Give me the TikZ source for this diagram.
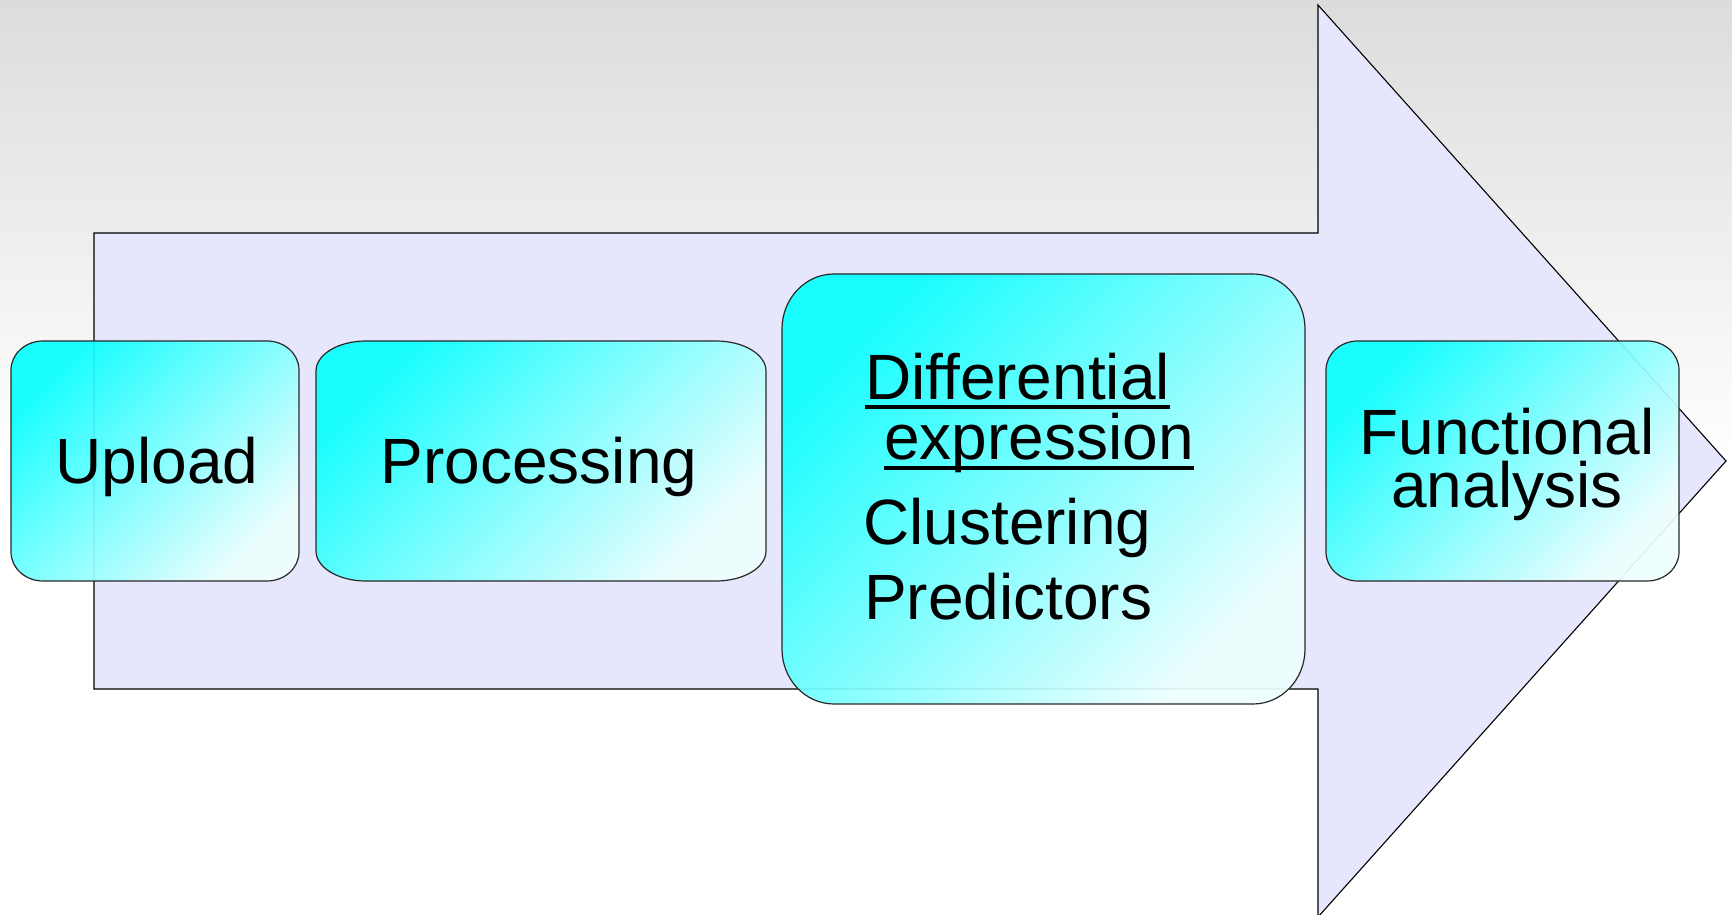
\documentclass[tikz,border=0pt]{standalone}
\usepackage{fontspec}
\setmainfont{Liberation Sans}

\definecolor{arrowfill}{RGB}{230,230,252}
\definecolor{cyanA}{RGB}{10,255,255}
\definecolor{cyanB}{RGB}{238,255,255}
\definecolor{skytop}{RGB}{220,220,220}
\definecolor{edge}{RGB}{40,40,40}

\tikzset{
  arrowbody/.style={draw=black, line width=1.1, fill=arrowfill},
  stage/.style={draw=edge, line width=1.2, top color=cyanA, bottom color=cyanB,
                shading angle=45, fill opacity=0.93},
  steptext/.style={font=\fontsize{64}{53}\selectfont, inner sep=0, text=black},
  uline/.style={line width=3.5, black},
}

% rounded box with elliptical corners: x1 y1 x2 y2 rx ry
\newcommand\stagebox[6]{%
  \path[stage] (#1+#5,#2) -- (#3-#5,#2)
    arc[start angle=-90, end angle=0, x radius=#5, y radius=#6] -- (#3,#4-#6)
    arc[start angle=0, end angle=90, x radius=#5, y radius=#6] -- (#1+#5,#4)
    arc[start angle=90, end angle=180, x radius=#5, y radius=#6] -- (#1,#2+#6)
    arc[start angle=180, end angle=270, x radius=#5, y radius=#6] -- cycle;}

\begin{document}
\begin{tikzpicture}[x=1pt, y=1pt]
  \useasboundingbox (0,0) rectangle (1732,914);
  \clip (0,0) rectangle (1732,914);

  % backdrop: grey fading to white
  \fill[white] (0,0) rectangle (1732,914);
  \shade[top color=skytop, bottom color=white] (0,457) rectangle (1732,914);

  % big process arrow
  \draw[arrowbody] (94,225) -- (94,681) -- (1318,681) -- (1318,909)
    -- (1726,453) -- (1318,-3) -- (1318,225) -- cycle;

  % stage boxes
  \stagebox{11}{333}{299}{573}{32}{29}
  \stagebox{316}{333}{766}{573}{50}{30}
  \stagebox{782}{210}{1305}{640}{52}{55}
  \stagebox{1326}{333}{1679}{573}{32}{29}

  % stage labels
  \node[steptext, anchor=base] (upload) at (157,430) {Upload};
  \node[steptext, anchor=base] (processing) at (539,430) {Processing};
  \node[steptext, anchor=base west] (diff) at (865,514) {Differential};
  \node[steptext, anchor=base west] (expr) at (884,454) {expression};
  \node[steptext, anchor=base west] (clus) at (863,370) {Clustering};
  \node[steptext, anchor=base west] (pred) at (864,295) {Predictors};
  \node[steptext, align=center, anchor=north] (func) at (1507,506) {Functional\\analysis};

  % underline of the linked title
  \draw[uline] ([yshift=-7]diff.base west) -- ([yshift=-7]diff.base east);
  \draw[uline] ([yshift=-8]expr.base west) -- ([yshift=-8]expr.base east);
\end{tikzpicture}
\end{document}
